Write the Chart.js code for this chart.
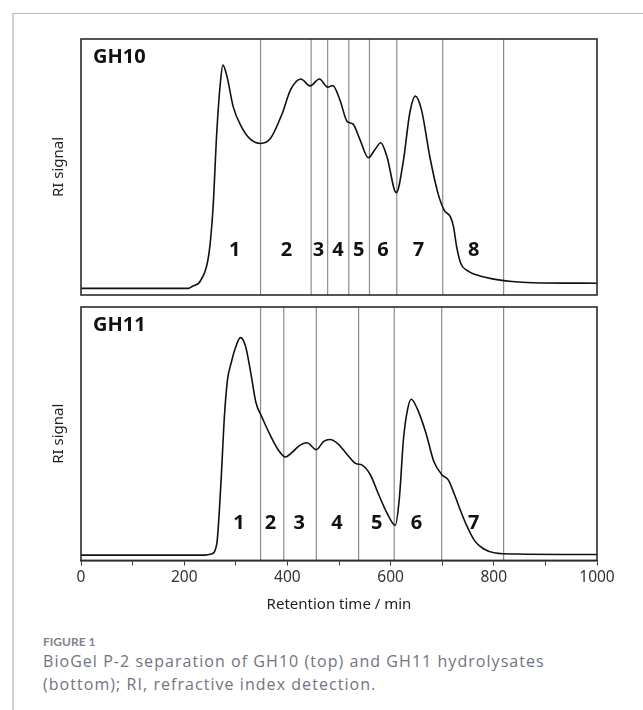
<!DOCTYPE html>
<html>
<head>
<meta charset="utf-8">
<script src="https://cdn.jsdelivr.net/npm/chart.js@4.4.0/dist/chart.umd.min.js"></script>
<style>
  body { margin: 0; background: #fff; width: 643px; height: 710px; overflow: hidden; position: relative; }
  .card { position: absolute; left: 12px; top: 13px; right: -4px; bottom: -4px; border-top: 1.5px solid #b8b8b8; border-left: 2px solid #d2d2d2; }
  .panel { position: absolute; left: 0; width: 643px; }
  #top { top: 0; height: 301px; }
  #bottom { top: 300px; height: 330px; }
  .caption { position: absolute; left: 43px; top: 634px; color: #71747f; white-space: nowrap; }
  .caption .fig { font-family: Lato, sans-serif; font-size: 12px; font-weight: 700; line-height: 16px; color: #80838c; }
  .caption .text { font-family: 'Open Sans', sans-serif; font-size: 16px; line-height: 23px; letter-spacing: 1.05px; }
</style>
</head>
<body>
<div class="card"></div>
<div class="panel" id="top"><canvas id="gh10Chart"></canvas></div>
<div class="panel" id="bottom"><canvas id="gh11Chart"></canvas></div>
<div class="caption">
  <div class="fig">FIGURE 1</div>
  <div class="text">BioGel P-2 separation of GH10 (top) and GH11 hydrolysates<br>(bottom); RI, refractive index detection.</div>
</div>
<script>
  // GH10 trace (retention time in min, RI signal in % of panel height)
  const gh10Time = [0, 100, 208, 216, 232, 248, 256, 263, 270, 275, 283, 295, 311, 327, 348, 367, 390, 406, 426, 444,
    462, 478, 488, 502, 516, 527, 541, 557, 569, 581, 593, 611, 625, 637, 648, 660, 676, 692, 704, 716,
    722, 728, 736, 748, 763, 795, 835, 875, 1000];
  const gh10Signal = [2.6, 2.6, 2.6, 3.4, 5.7, 16.2, 34.4, 63.1, 82.7, 89.8, 85.3, 73.5, 65.7, 61.1, 59.2, 61.1, 70.9, 80.1, 84.4, 81.7,
    84.4, 81.2, 81.8, 76.1, 67.7, 66.8, 60.5, 53.6, 56.6, 59.5, 54.0, 40.0, 52.7, 70.9, 77.7, 72.2, 54.0, 39.6, 33.1, 30.5,
    26.6, 18.8, 12.3, 9.6, 8.1, 6.4, 5.3, 4.8, 4.6];
  const gh10Cuts = [348, 446, 478, 519, 559, 612, 701, 819];
  const gh10Fractions = ['1', '2', '3', '4', '5', '6', '7', '8'];
  const gh10FractionTimes = [298, 398, 460, 498, 538, 585, 654, 761];

  // GH11 trace
  const gh11Time = [0, 100, 240, 252, 263, 271, 278, 284, 291, 299, 309, 319, 329, 339, 351, 367, 383, 396, 410, 422,
    438, 456, 470, 482, 498, 517, 533, 545, 561, 577, 593, 609, 617, 625, 633, 640, 652, 668, 684, 700,
    712, 724, 736, 748, 763, 779, 803, 843, 1000];
  const gh11Signal = [2.1, 2.1, 2.1, 2.5, 6.4, 29.8, 57.1, 71.4, 77.9, 83.7, 87.9, 84.4, 74.0, 62.3, 56.4, 49.3, 43.4, 40.8, 42.8, 45.1,
    46.4, 43.7, 46.9, 47.7, 46.0, 41.5, 38.2, 37.6, 33.7, 25.9, 18.7, 13.9, 24.6, 48.0, 59.7, 63.6, 59.7, 50.6, 38.9, 33.7,
    31.7, 25.9, 19.4, 13.5, 7.7, 4.7, 2.9, 2.5, 2.3];
  const gh11Cuts = [348, 393, 456, 538, 607, 699, 819];
  const gh11Fractions = ['1', '2', '3', '4', '5', '6', '7'];
  const gh11FractionTimes = [306, 367, 423, 496, 573, 650, 761];

  const xTicks = [0, 200, 400, 600, 800, 1000];

  Chart.defaults.font.family = 'Noto Sans';

  // frame, fraction cut lines and labels
  const panelPlugin = {
    id: 'panel',
    beforeDatasetsDraw(chart, args, opts) {
      const { ctx, chartArea: a, scales: { x } } = chart;
      ctx.save();
      ctx.strokeStyle = '#8c8c8c';
      ctx.lineWidth = 1.2;
      opts.cuts.forEach(t => {
        const px = x.getPixelForValue(t);
        ctx.beginPath();
        ctx.moveTo(px, a.top);
        ctx.lineTo(px, a.bottom);
        ctx.stroke();
      });
      ctx.restore();
    },
    afterDatasetsDraw(chart, args, opts) {
      const { ctx, chartArea: a, scales: { x, y } } = chart;
      ctx.save();
      ctx.strokeStyle = '#2b2b2b';
      ctx.lineWidth = 1.6;
      ctx.strokeRect(a.left, a.top, a.right - a.left, a.bottom - a.top);
      ctx.fillStyle = '#111';
      ctx.font = 'bold 20px "Open Sans"';
      ctx.textBaseline = 'middle';
      ctx.textAlign = 'left';
      ctx.fillText(opts.name, a.left + 12, a.top + 18);
      ctx.textAlign = 'center';
      opts.labels.forEach((lab, i) => {
        ctx.fillText(lab, x.getPixelForValue(opts.labelTimes[i]), y.getPixelForValue(opts.labelY));
      });
      ctx.restore();
    }
  };

  function makePanel(canvasId, name, times, signal, cuts, labels, labelTimes, labelY, showX) {
    const ctx = document.getElementById(canvasId).getContext('2d');
    return new Chart(ctx, {
      type: 'line',
      data: {
        datasets: [{
          data: times.map((t, i) => ({ x: t, y: signal[i] })),
          borderColor: '#111',
          borderWidth: 1.6,
          pointRadius: 0,
          cubicInterpolationMode: 'monotone',
          fill: false
        }]
      },
      options: {
        responsive: true,
        maintainAspectRatio: false,
        animation: false,
        layout: { padding: showX ? { left: 46, right: 46, top: 7, bottom: 12 } : { left: 46, right: 46, top: 39, bottom: 6 } },
        plugins: {
          legend: { display: false },
          tooltip: { enabled: false },
          panel: { name, cuts, labels, labelTimes, labelY }
        },
        scales: {
          x: {
            type: 'linear', min: 0, max: 1000, display: showX,
            ticks: {
              stepSize: 100, autoSkip: false, maxRotation: 0, padding: 3, color: '#333',
              font: { size: 15.5 },
              callback: v => xTicks.includes(v) ? v : ''
            },
            grid: { display: true, drawOnChartArea: false, drawTicks: true, tickLength: 5, color: '#333' },
            border: { display: true, color: '#2b2b2b', width: 1.6 },
            title: { display: true, text: 'Retention time / min', color: '#222', font: { size: 15 }, padding: { top: 6, bottom: 4 } }
          },
          y: {
            min: 0, max: 100,
            ticks: { display: false },
            grid: { display: false, drawTicks: false },
            border: { display: false },
            title: { display: true, text: 'RI signal', color: '#222', font: { size: 15 }, padding: { top: 4, bottom: 13 } }
          }
        }
      },
      plugins: [panelPlugin]
    });
  }

  makePanel('gh10Chart', 'GH10', gh10Time, gh10Signal, gh10Cuts, gh10Fractions, gh10FractionTimes, 17.4, false);
  makePanel('gh11Chart', 'GH11', gh11Time, gh11Signal, gh11Cuts, gh11Fractions, gh11FractionTimes, 14.6, true);
</script>
</body>
</html>
